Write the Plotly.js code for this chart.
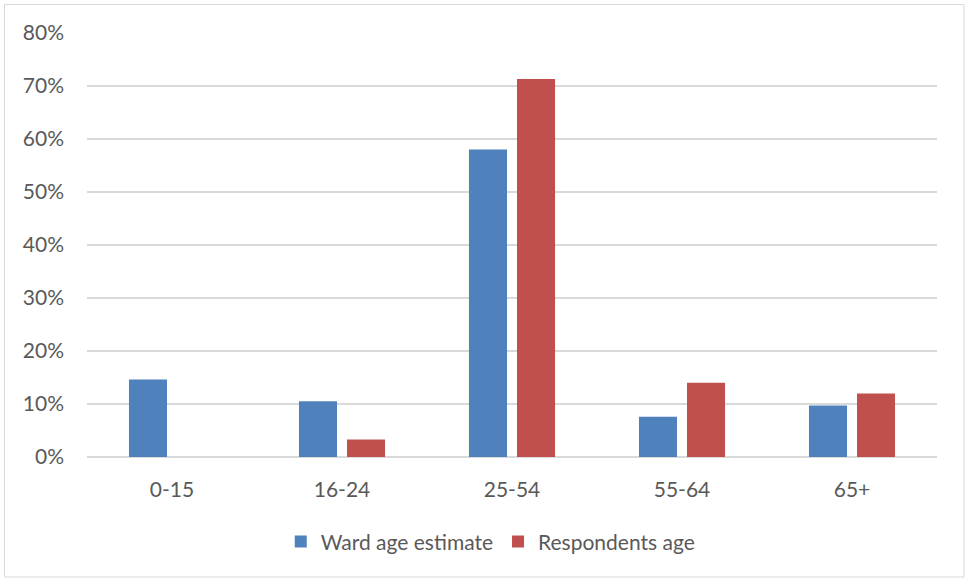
<!DOCTYPE html>
<html>
<head>
<meta charset="utf-8">
<script src="https://cdn.plot.ly/plotly-3.0.1.min.js"></script>
<style>html,body{margin:0;padding:0;background:#fff;}#chart{width:965px;height:578px;}</style>
</head>
<body>
<div id="chart"></div>
<script>
const categories = ["0-15", "16-24", "25-54", "55-64", "65+"];
const wardAge = [0.146, 0.105, 0.580, 0.076, 0.097];
const respondentsAge = [null, 0.033, 0.713, 0.140, 0.120];
const seriesNames = ["Ward age estimate", "Respondents age"];
const yTickVals = [0, 0.1, 0.2, 0.3, 0.4, 0.5, 0.6, 0.7, 0.8];

const font = {family: "Lato, 'Open Sans', sans-serif", size: 21, color: "#595959"};

const traces = [
  {type: "bar", name: seriesNames[0], x: categories, y: wardAge,
   marker: {color: "#4f81bd"}, hoverinfo: "x+y"},
  {type: "bar", name: seriesNames[1], x: categories, y: respondentsAge,
   marker: {color: "#c0504d"}, hoverinfo: "x+y"}
];

const layout = {
  width: 965, height: 578,
  margin: {l: 87, r: 28, t: 33, b: 121},
  paper_bgcolor: "#ffffff", plot_bgcolor: "#ffffff",
  font: font,
  barmode: "group",
  bargap: 0.435,
  bargroupgap: 0.208,
  showlegend: true,
  legend: {orientation: "h", x: 0.475, xanchor: "center", y: -0.2, yanchor: "middle",
           font: font, itemwidth: 30, traceorder: "normal"},
  xaxis: {type: "category", showgrid: false, zeroline: false, showline: false,
          ticks: "", tickfont: font, ticklabelstandoff: 18, fixedrange: true},
  yaxis: {range: [0, 0.8], tickvals: yTickVals, tickformat: ".0%",
          showgrid: true, gridcolor: "#d9d9d9", gridwidth: 1.3,
          zeroline: true, zerolinecolor: "#d9d9d9", zerolinewidth: 1.3,
          showline: false, ticks: "", tickfont: font, ticklabelstandoff: 22, fixedrange: true},
  shapes: [{type: "rect", xref: "paper", yref: "paper",
            x0: (4.5 - 87) / 850, x1: (964 - 87) / 850,
            y0: (457 - 577) / 424, y1: (457 - 4.5) / 424,
            line: {color: "#d9d9d9", width: 1}, fillcolor: "rgba(0,0,0,0)", layer: "below"}]
};

Plotly.newPlot("chart", traces, layout, {displayModeBar: false, staticPlot: true});
</script>
</body>
</html>
